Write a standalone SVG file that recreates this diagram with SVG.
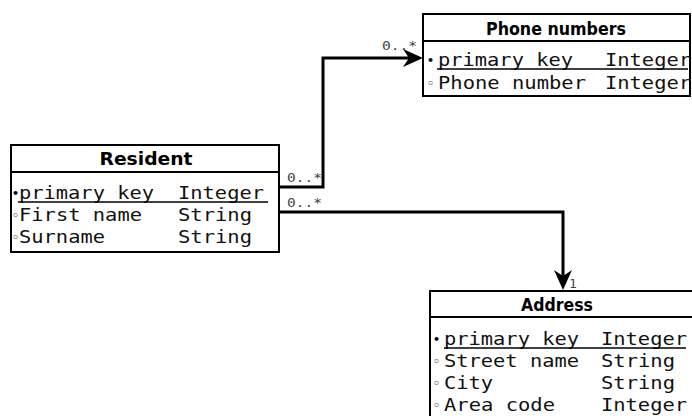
<svg xmlns="http://www.w3.org/2000/svg" width="692" height="416" viewBox="0 0 692 416">
<style>
.box{fill:#fff;stroke:#000;stroke-width:2}
.sep{stroke:#000;stroke-width:2}
.ul{stroke:#000;stroke-width:1.3}
.title{font-family:"DejaVu Sans",sans-serif;font-weight:bold;font-size:17px;fill:#000;text-anchor:middle}
.m{font-family:"DejaVu Sans Mono",monospace;font-size:18px;fill:#111}
.b{font-family:"DejaVu Sans",sans-serif;font-size:11px;font-weight:bold;fill:#000}
.lbl{font-family:"DejaVu Sans Mono",monospace;font-size:13px;fill:#444}
.conn{fill:none;stroke:#000;stroke-width:3}
</style>
<defs>
<marker id="arr" markerUnits="userSpaceOnUse" markerWidth="22" markerHeight="22" viewBox="0 -11 22 22" refX="6" refY="0" orient="auto">
<path d="M20,0 L0,-9 L6,0 L0,9 Z" fill="#000"/>
</marker>
</defs>
<g id="connectors">
<path class="conn" d="M280,187 H323 V58 H409" marker-end="url(#arr)"/>
<path class="conn" d="M280,212 H563 V276" marker-end="url(#arr)"/>
<text class="lbl" x="287" y="182" textLength="35" lengthAdjust="spacingAndGlyphs">0..*</text>
<text class="lbl" x="287" y="207" textLength="35" lengthAdjust="spacingAndGlyphs">0..*</text>
<text class="lbl" x="382" y="50" textLength="35" lengthAdjust="spacingAndGlyphs">0..*</text>
<text class="lbl" x="569" y="288">1</text>
</g>
<g id="phone-numbers">
<rect class="box" x="423" y="14" width="267" height="82"/>
<line class="sep" x1="423" y1="41" x2="690" y2="41"/>
<text class="title" x="556" y="35" textLength="140" lengthAdjust="spacingAndGlyphs">Phone numbers</text>
<text class="b" x="427" y="64">•</text>
<text class="m" x="438" y="66" textLength="135" lengthAdjust="spacingAndGlyphs">primary key</text>
<text class="m" x="605" y="66" textLength="86" lengthAdjust="spacingAndGlyphs">Integer</text>
<line class="ul" x1="437" y1="69" x2="688" y2="69"/>
<text class="b" x="427" y="87">◦</text>
<text class="m" x="438" y="89" textLength="148" lengthAdjust="spacingAndGlyphs">Phone number</text>
<text class="m" x="605" y="89" textLength="86" lengthAdjust="spacingAndGlyphs">Integer</text>
</g>
<g id="resident">
<rect class="box" x="11" y="145" width="268" height="107"/>
<line class="sep" x1="11" y1="172" x2="279" y2="172"/>
<text class="title" x="146" y="165" textLength="93" lengthAdjust="spacingAndGlyphs">Resident</text>
<text class="b" x="12" y="197">•</text>
<text class="m" x="19" y="199" textLength="135" lengthAdjust="spacingAndGlyphs">primary key</text>
<text class="m" x="178" y="199" textLength="86" lengthAdjust="spacingAndGlyphs">Integer</text>
<line class="ul" x1="18" y1="202" x2="268" y2="202"/>
<text class="b" x="12" y="219">◦</text>
<text class="m" x="19" y="221" textLength="123" lengthAdjust="spacingAndGlyphs">First name</text>
<text class="m" x="178" y="221" textLength="74" lengthAdjust="spacingAndGlyphs">String</text>
<text class="b" x="12" y="241">◦</text>
<text class="m" x="19" y="243" textLength="86" lengthAdjust="spacingAndGlyphs">Surname</text>
<text class="m" x="178" y="243" textLength="74" lengthAdjust="spacingAndGlyphs">String</text>
</g>
<g id="address">
<rect class="box" x="430" y="291" width="280" height="140"/>
<line class="sep" x1="430" y1="317" x2="710" y2="317"/>
<text class="title" x="557" y="311" textLength="72" lengthAdjust="spacingAndGlyphs">Address</text>
<text class="b" x="433" y="343">•</text>
<text class="m" x="444" y="345" textLength="135" lengthAdjust="spacingAndGlyphs">primary key</text>
<text class="m" x="601" y="345" textLength="86" lengthAdjust="spacingAndGlyphs">Integer</text>
<line class="ul" x1="444" y1="348" x2="686" y2="348"/>
<text class="b" x="433" y="365">◦</text>
<text class="m" x="444" y="367" textLength="135" lengthAdjust="spacingAndGlyphs">Street name</text>
<text class="m" x="601" y="367" textLength="74" lengthAdjust="spacingAndGlyphs">String</text>
<text class="b" x="433" y="387">◦</text>
<text class="m" x="444" y="389" textLength="49" lengthAdjust="spacingAndGlyphs">City</text>
<text class="m" x="601" y="389" textLength="74" lengthAdjust="spacingAndGlyphs">String</text>
<text class="b" x="433" y="409">◦</text>
<text class="m" x="444" y="411" textLength="111" lengthAdjust="spacingAndGlyphs">Area code</text>
<text class="m" x="601" y="411" textLength="86" lengthAdjust="spacingAndGlyphs">Integer</text>
</g>
</svg>
